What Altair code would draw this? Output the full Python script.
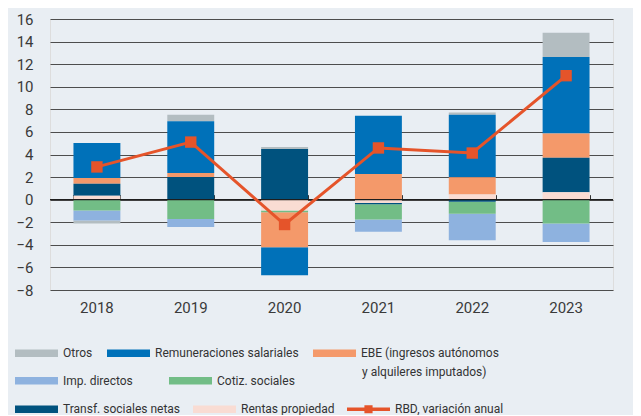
import altair as alt
import pandas as pd

years = ["2018", "2019", "2020", "2021", "2022", "2023"]
otros = [-0.25, 0.59, 0.17, 0.0, 0.2, 2.15]
remun = [3.1, 4.58, -2.48, 5.17, 5.53, 6.79]
ebe = [0.5, 0.36, -3.1, 2.27, 1.53, 2.13]
imp = [-0.9, -0.71, 0.0, -1.1, -2.36, -1.65]
cotiz = [-0.95, -1.71, -0.15, -1.35, -1.06, -2.1]
transf = [1.07, 2.0, 4.49, -0.1, -0.18, 3.07]
rentas = [0.35, 0.0, -0.97, -0.3, 0.45, 0.65]
rbd = [2.9, 5.1, -2.2, 4.58, 4.13, 10.98]
y_ticks = list(range(-8, 17, 2))

S_OTR = "Otros"
S_REM = "Remuneraciones salariales"
S_EBE = "EBE (ingresos autónomos"
S_EBE2 = "y alquileres imputados)"
S_IMP = "Imp. directos"
S_COT = "Cotiz. sociales"
S_TRA = "Transf. sociales netas"
S_REN = "Rentas propiedad"
S_RBD = "RBD, variación anual"

color_of = {S_OTR: "#b3bdc1", S_REM: "#0071b9", S_EBE: "#f4996a", S_IMP: "#8eb2df",
            S_COT: "#72bd86", S_TRA: "#00527e", S_REN: "#f9dcd3", S_RBD: "#e5542a",
            S_EBE2: "rgba(0,0,0,0)"}
RECT = "M-1,-0.18H1V0.18H-1Z"
LINESQ = "M-1,-0.08H1V0.08H-1Z M-0.19,-0.19H0.19V0.19H-0.19Z"

# (entries, legendX, legendY, columnPadding)
legend_rows = [
    ([S_OTR, S_REM, S_EBE], -35, 312.5, 14),
    ([S_EBE2], 264, 331.5, 12),
    ([S_IMP, S_COT], -35, 340.0, 36),
    ([S_TRA, S_REN, S_RBD], -35, 368.5, 12),
]

stack_rank = {S_REN: 1, S_TRA: 2, S_COT: 3, S_EBE: 4, S_REM: 5, S_IMP: 6, S_OTR: 7}
series = {S_OTR: otros, S_REM: remun, S_EBE: ebe, S_IMP: imp, S_COT: cotiz,
          S_TRA: transf, S_REN: rentas}

rows = []
for name, vals in series.items():
    for yr, v in zip(years, vals):
        rows.append({"year": yr, "serie": name, "value": v, "ord": stack_rank[name]})
df = pd.DataFrame(rows)
df_rbd = pd.DataFrame({"year": years, "value": rbd})
df_zero = pd.DataFrame({"z": [0]})

FONT = "Roboto"
PLOT_W, PLOT_H = 563, 271

xscale = alt.Scale(domain=years, paddingInner=0.5, paddingOuter=0.25)
yscale = alt.Scale(domain=[-8, 16], nice=False, zero=False)
yaxis = alt.Axis(values=y_ticks, grid=True, gridColor="#4d4d4d", gridWidth=1,
                 domain=False, ticks=False, labelPadding=17, labelFontSize=15,
                 labelColor="#3a3a3a", title=None)

bar_names = list(series.keys())
bars = alt.Chart(df).mark_bar().encode(
    x=alt.X("year:N", scale=xscale,
            axis=alt.Axis(orient="bottom", ticks=False, domain=False, grid=False,
                          labelPadding=10, labelFontSize=15, labelColor="#3a3a3a",
                          labelAngle=0, title=None)),
    y=alt.Y("value:Q", stack="zero", scale=yscale, axis=yaxis),
    color=alt.Color("serie:N",
                    scale=alt.Scale(domain=bar_names, range=[color_of[n] for n in bar_names]),
                    legend=None),
    order=alt.Order("ord:Q", sort="ascending"),
)

zero = alt.Chart(df_zero).mark_rule(color="#1e1e1e", strokeWidth=1.4).encode(
    y=alt.Y("z:Q", scale=yscale, axis=yaxis)
)

zero_px = PLOT_H * 16 / 24
line = alt.Chart(df_rbd).mark_line(color="#e5542a", strokeWidth=3).encode(
    x=alt.X("year:N", scale=xscale,
            axis=alt.Axis(orient="top", offset=-zero_px, labels=False, domain=False,
                          ticks=True, tickSize=5, tickColor="#333333", tickWidth=1,
                          tickBand="extent", grid=False, title=None)),
    y=alt.Y("value:Q", scale=yscale, axis=yaxis),
)

squares = alt.Chart(df_rbd).mark_square(color="#e5542a", size=130, opacity=1).encode(
    x=alt.X("year:N", scale=xscale, axis=None),
    y=alt.Y("value:Q", scale=yscale, axis=yaxis),
)

legend_layers = []
for names, lx, ly, cpad in legend_rows:
    lg = alt.Legend(title=None, orient="none", legendX=lx, legendY=ly,
                    direction="horizontal", columnPadding=cpad,
                    symbolSize=1849, labelFontSize=12, labelColor="#333333",
                    labelOffset=5, labelLimit=400, symbolStrokeWidth=0)
    cs = alt.Scale(domain=names, range=[color_of[n] for n in names])
    ss = alt.Scale(domain=names, range=[LINESQ if n == S_RBD else RECT for n in names])
    legend_layers.append(
        alt.Chart(pd.DataFrame({"serie": names})).mark_point(filled=True, opacity=1).encode(
            color=alt.Color("serie:N", scale=cs, legend=lg),
            shape=alt.Shape("serie:N", scale=ss, legend=lg),
        ).transform_filter("false")
    )

chart = alt.layer(bars, zero, line, squares, *legend_layers).resolve_axis(
    x="independent"
).resolve_scale(color="independent", shape="independent").properties(
    width=PLOT_W, height=PLOT_H,
    autosize=alt.AutoSizeParams(type="none"),
    padding={"left": 42, "top": 11, "right": 20, "bottom": 125},
    background="#e9eef3",
).configure_view(stroke=None).configure(font=FONT)

chart.save("out.html", embed_options={"renderer": "svg", "actions": False})
